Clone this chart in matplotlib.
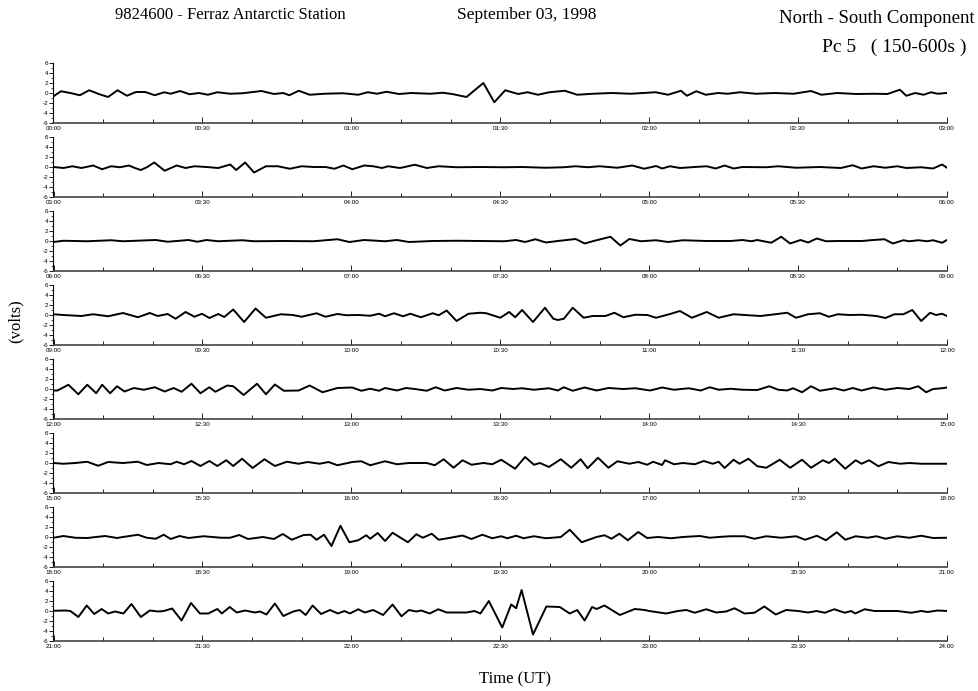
import numpy as np
import matplotlib
matplotlib.use('Agg')
import matplotlib.pyplot as plt
from matplotlib.ticker import MultipleLocator, FuncFormatter

plt.rcParams['axes.unicode_minus'] = False

# turning points: minutes after panel start, volts
t0 = [0, 1.5, 3.4, 5.3, 7.2, 9.1, 11.0, 12.9, 14.8, 16.6, 18.5, 20.4, 22.3, 23.6, 25.5, 27.4,
      29.3, 31.1, 33.0, 35.6, 38.1, 41.9, 44.4, 46.3, 47.5, 49.4, 51.6, 54.5, 58.3, 61.4, 63.3,
      65.2, 67.1, 69.6, 72.1, 75.9, 78.4, 80.3, 83.2, 86.6, 88.8, 91.0, 93.6, 95.5, 97.6, 99.9,
      103.0, 105.5, 108.7, 112.5, 116.3, 121.3, 123.8, 126.4, 127.6, 129.5, 131.4, 133.9, 135.8,
      138.3, 141.5, 145.3, 149.1, 152.6, 154.7, 157.9, 161.7, 165.4, 168.0, 170.5, 171.8, 173.6,
      175.3, 176.8, 178.1, 180.0]
v0 = [-0.65, 0.35, 0, -0.45, 0.55, -0.2, -0.8, 0.55, -0.55, 0.2, 0.2, -0.45, 0.15, -0.15, 0.4, -0.25,
      0, -0.35, 0.15, -0.15, -0.05, 0.4, -0.2, 0, -0.45, 0.45, -0.35, -0.15, -0.05, -0.35, 0.15,
      -0.15, 0.25, -0.2, 0, -0.15, 0.05, -0.2, -0.8, 2.0, -1.85, 0.55, -0.2, 0.15, -0.35, 0.15,
      0.45, -0.35, -0.15, 0, -0.15, 0.15, -0.35, 0.45, -0.55, 0.35, -0.35, 0, -0.15,
      0.15, -0.15, 0, -0.15, 0.4, -0.35, 0, -0.2, -0.15, -0.2, 0.65, -0.55, 0,
      -0.35, 0.15, -0.15, 0]

t1 = [0, 2.0, 3.8, 5.6, 8.0, 9.8, 11.6, 13.4, 15.2, 16.4, 17.6, 18.8, 20.3, 22.4, 24.8, 26.6, 28.4,
      30.8, 33.2, 35.6, 36.8, 38.6, 40.4, 42.8, 45.2, 47.6, 50.0, 52.4, 54.8, 56.6, 58.4, 60.2,
      62.6, 64.4, 66.2, 67.4, 69.8, 72.8, 75.2, 77.6, 81.2, 86.0, 90.8, 94.4, 99.2, 102.8, 105.2,
      107.6, 110.0, 113.6, 116.6, 119.0, 121.4, 122.6, 124.2, 126.2, 129.2, 131.6, 133.4, 135.2,
      137.0, 138.8, 143.6, 146.0, 149.6, 154.4, 158.6, 161.0, 162.8, 165.2, 167.6, 170.0, 171.8,
      174.8, 177.2, 179.0, 180.0]
v1 = [0, -0.2, 0.15, -0.2, 0.3, -0.45, 0.15, -0.05, 0.3, -0.2, -0.6, -0.05, 0.9, -0.75, 0.3, -0.2, 0.15,
      0, -0.2, 0.5, -0.6, 0.9, -1.1, 0.15, 0.15, -0.35, 0.15, 0, 0, -0.35, 0.3, -0.45,
      0.3, 0.15, -0.2, 0.15, -0.2, 0.45, -0.2, 0.15, -0.05, 0, -0.05, 0, -0.15, -0.05, 0.15,
      -0.05, 0.15, -0.15, 0.3, -0.35, 0.2, -0.3, 0.15, -0.2, 0, 0.15, -0.3, 0.3,
      -0.3, 0, -0.05, 0.15, -0.15, 0, -0.2, 0.35, -0.3, 0.15, -0.15, 0.15, -0.2,
      -0.05, -0.3, 0.5, -0.15]

t2 = [0, 2.0, 6.8, 11.6, 14.0, 20.6, 23.0, 27.2, 29.0, 30.8, 33.2, 38.0, 40.4, 46.4, 52.4, 57.2,
      59.6, 62.6, 66.8, 69.2, 71.6, 76.4, 81.2, 86.0, 90.8, 93.2, 95.0, 97.1, 99.2, 101.6, 105.2,
      107.0, 108.8, 112.2, 114.2, 116.0, 118.4, 121.4, 123.8, 126.8, 131.6, 136.4, 138.8, 140.6,
      141.8, 144.6, 146.6, 148.4, 150.5, 152.0, 153.8, 155.6, 158.0, 162.8, 165.2, 167.4, 169.1,
      171.2, 172.4, 174.2, 176.0, 177.2, 179.0, 180.0]
v2 = [-0.2, 0.05, -0.05, 0.15, -0.05, 0.2, -0.15, 0.2, -0.15, 0.2, -0.05, 0.15, -0.05, 0, -0.05, 0.35,
      -0.2, 0.2, -0.05, 0.2, -0.2, 0, 0.05, 0, -0.05, 0.2, -0.2, 0.35, -0.3, 0, 0.4,
      -0.5, 0, 0.85, -0.9, 0.4, -0.05, 0.15, -0.2, 0.15, 0, 0, 0.2, -0.05,
      0.2, -0.35, 0.85, -0.5, 0.2, -0.3, 0.5, -0.05, 0, 0, 0.2, 0.35, -0.5,
      0.15, -0.05, 0.15, -0.05, 0.15, -0.35, 0.2]

t3 = [0, 2.0, 5.6, 8.0, 11.0, 14.0, 17.0, 19.4, 21.0, 23.0, 24.6, 26.6, 28.4, 29.9, 31.4, 33.2,
      34.4, 36.2, 38.4, 40.7, 42.8, 45.8, 48.2, 50.0, 53.0, 54.8, 57.2, 59.0, 61.4, 63.8, 65.6,
      66.8, 68.6, 70.4, 71.9, 74.0, 76.4, 77.6, 79.2, 81.2, 83.6, 86.0, 87.2, 90.0, 91.8, 93.0,
      94.4, 96.6, 99.0, 100.7, 101.6, 102.8, 104.6, 106.8, 108.6, 111.2, 113.0, 114.8, 117.2,
      119.6, 121.4, 124.4, 126.2, 128.6, 131.6, 134.0, 137.0, 140.0, 142.4, 145.4, 147.8, 149.6,
      152.0, 154.4, 156.2, 158.0, 160.4, 162.8, 165.8, 167.6, 169.4, 171.2, 173.0, 174.8, 176.6,
      177.8, 179.0, 180.0]
v3 = [0.15, 0, -0.2, 0.15, -0.25, 0.4, -0.45, 0.4, -0.2, 0.2, -0.75, 0.6, -0.35, 0.25, -0.6, 0.2,
      -0.4, 1.1, -1.4, 1.3, -0.55, 0.15, 0, -0.35, 0.35, -0.35, 0.2, -0.05, 0, -0.15, 0.25,
      -0.25, 0.35, -0.25, 0.25, -0.45, 0.35, -0.05, 0.9, -1.2, 0.25, 0.45, 0.35, -0.55, 0.6, -0.45,
      1.0, -1.4, 1.45, -0.75, -1.0, -0.75, 1.45, -0.55, -0.2, -0.2, 0.45, -0.45, 0.05,
      0, -0.55, 0.25, 0.8, -0.55, 0.6, -0.55, 0.15, -0.05, -0.2, 0.15, 0.45, -0.55,
      0.15, 0.35, -0.35, 0.15, 0, 0.05, -0.2, -0.6, 0.15, 0.15, 1.0, -1.2, 0.45,
      0, 0.25, -0.2]

t4 = [0, 0.8, 3.0, 5.0, 6.8, 8.6, 9.8, 11.4, 12.8, 14.3, 16.2, 18.2, 20.4, 22.4, 24.2, 25.8, 27.8,
      29.6, 31.4, 32.6, 35.0, 36.2, 38.3, 41.0, 42.8, 44.6, 46.4, 49.4, 51.6, 54.2, 57.2, 60.2,
      62.0, 63.8, 65.6, 66.8, 69.2, 71.0, 72.8, 75.2, 77.0, 78.8, 81.2, 83.6, 86.0, 88.4, 90.2,
      92.6, 94.4, 96.8, 99.8, 101.6, 102.8, 104.6, 107.0, 109.4, 111.8, 114.8, 117.2, 120.2,
      122.6, 125.0, 128.0, 130.4, 132.2, 134.0, 136.4, 138.8, 141.8, 144.2, 146.0, 147.8, 149.0,
      150.8, 152.6, 154.4, 157.4, 159.2, 161.0, 162.8, 165.2, 167.6, 170.0, 172.4, 174.2, 175.8,
      177.2, 179.0, 180.0]
v4 = [-0.3, -0.3, 0.85, -1.05, 0.85, -0.85, 0.85, -0.85, 0.55, -0.5, 0.2, -0.15, 0.35, -0.5, 0.2, -0.55, 1.05,
      -0.85, 0.35, -0.55, 0.7, 0.55, -1.2, 1.05, -1.05, 0.9, -0.35, -0.3, 0.7, -0.65, 0.2, 0.3,
      -0.35, 0.05, -0.35, 0.2, -0.3, 0.2, 0, -0.35, 0.35, -0.3, 0.2, -0.15, 0, -0.3, 0.2,
      0, 0.15, -0.15, 0.15, -0.3, 0.35, -0.35, 0.3, -0.3, 0.2, 0, 0.15, -0.3,
      0.3, -0.15, 0.15, -0.3, 0.35, -0.15, 0.05, -0.15, -0.2, 0.55, -0.15, -0.3, 0.15,
      -0.65, 0.55, -0.35, 0.15, -0.3, 0.2, -0.3, 0.3, -0.15, 0.2, 0, 0.55, -0.65,
      0, 0.15, 0.3]

t5 = [0, 2.0, 4.4, 6.8, 9.0, 11.0, 14.0, 17.0, 18.8, 21.2, 23.6, 24.8, 26.3, 27.8, 29.6, 31.4, 33.0,
      34.8, 36.2, 38.0, 40.1, 42.5, 44.6, 47.0, 49.4, 51.2, 53.6, 55.4, 57.2, 60.2, 62.0, 63.8,
      66.8, 69.2, 71.6, 75.2, 76.8, 78.6, 80.6, 82.4, 84.2, 86.6, 88.4, 90.2, 93.0, 95.0, 96.8,
      98.0, 99.8, 102.2, 104.3, 106.2, 107.6, 109.7, 111.8, 113.6, 116.0, 117.8, 119.6, 120.8,
      122.6, 123.2, 125.0, 126.8, 129.2, 131.0, 132.8, 134.0, 135.2, 137.0, 138.2, 140.0, 141.8,
      143.6, 146.3, 148.4, 150.8, 152.6, 155.0, 156.2, 157.4, 159.5, 161.6, 162.8, 164.3, 166.2,
      168.2, 170.6, 172.4, 174.8, 178.4, 180.0]
v5 = [0, -0.15, 0, 0.25, -0.55, 0.2, 0, 0.25, -0.4, 0, -0.25, 0.25, -0.25, 0.4, -0.6, 0.4, -0.6,
      0.55, -0.6, 0.85, -1.0, 0.75, -0.6, 0.25, -0.15, 0.2, -0.15, 0.2, -0.45, 0.2, 0.35, -0.45,
      0.35, -0.25, 0, 0, -0.45, 0.75, -0.95, 0.55, -0.35, 0, -0.25, 0.65, -1.15, 1.2, -0.35,
      0, -0.8, 0.75, -0.95, 0.75, -1.05, 1.05, -0.95, 0.35, -0.15, 0.2, -0.35, 0.25,
      -0.4, 0.55, -0.25, 0, -0.25, 0.4, -0.15, 0.25, -1.0, 0.65, -0.15, 0.85, -0.65,
      -0.95, 0.65, -0.95, 0.65, -0.95, 0.55, 0, 0.85, -1.15, 0.55, -0.15, 0.55, -0.65,
      0.2, -0.15, 0, -0.15, -0.15, -0.15]

t6 = [0, 2.0, 4.4, 6.8, 10.4, 12.8, 14.0, 17.0, 18.8, 20.6, 22.2, 23.6, 25.4, 27.2, 30.2, 33.8,
      35.6, 37.4, 39.2, 42.2, 44.4, 46.2, 48.0, 50.4, 51.8, 53.0, 54.5, 56.0, 57.8, 59.6, 61.4,
      63.0, 63.8, 65.3, 66.8, 68.3, 71.4, 73.1, 74.4, 76.2, 77.6, 79.4, 82.4, 84.2, 86.4, 88.4,
      90.2, 91.4, 93.2, 94.7, 96.8, 99.2, 102.2, 104.0, 106.4, 109.4, 111.0, 112.4, 114.0, 115.7,
      117.8, 119.6, 121.8, 124.4, 126.8, 130.2, 132.2, 134.6, 136.4, 139.2, 141.2, 143.6, 146.6,
      149.6, 151.4, 153.8, 155.6, 157.8, 159.5, 161.6, 164.0, 165.8, 167.6, 170.0, 172.4, 174.8,
      177.2, 180.0]
v6 = [-0.15, 0.2, -0.15, -0.2, 0.2, -0.2, 0, 0.45, -0.15, -0.35, 0.45, -0.4, 0.2, -0.2, 0.15, -0.15,
      -0.15, 0.4, -0.4, 0, -0.4, 0.6, -0.55, 0.4, 0.45, -0.55, 0.45, -1.8, 2.25, -1.05, -0.65,
      0.35, -0.35, 0.8, -0.8, 0.85, -1.05, 0.55, -0.15, 0.65, -0.55, -0.25, 0.3, -0.4, 0.45, -0.25,
      0.15, -0.25, 0.25, -0.25, 0.15, -0.25, 0, 1.45, -1.05, 0, 0.35, -0.35, 0.65, -0.65,
      1.0, -0.2, 0, -0.25, 0, 0.2, -0.15, 0.05, 0.15, 0.15, -0.35, 0.15, -0.15,
      0.15, -0.55, 0.25, -0.65, 0.95, -0.55, 0.15, -0.15, 0.15, -0.35, 0.15, -0.15, 0.25,
      -0.2, -0.15]

t7 = [0, 2.5, 3.4, 5.0, 6.7, 8.2, 9.7, 11.0, 12.4, 14.1, 15.7, 17.6, 19.4, 21.1, 22.2, 23.9, 25.8,
      27.7, 29.5, 31.2, 33.0, 33.9, 35.5, 36.9, 38.6, 40.6, 41.6, 42.9, 44.6, 46.3, 48.3, 49.6,
      50.8, 52.2, 53.9, 55.7, 57.3, 58.6, 59.7, 61.4, 62.7, 64.4, 66.4, 68.3, 70.1, 71.6, 73.1,
      74.1, 75.8, 77.5, 79.2, 81.2, 83.2, 84.8, 86.0, 87.7, 90.4, 92.2, 93.2, 94.3, 96.6, 99.3,
      102.0, 104.0, 105.5, 107.0, 108.5, 109.4, 111.0, 114.1, 117.1, 119.1, 120.0, 123.4, 125.8,
      127.5, 129.2, 131.5, 133.5, 135.5, 137.2, 139.2, 141.2, 143.2, 145.5, 147.6, 150.0, 152.0,
      153.7, 155.4, 157.3, 159.4, 160.7, 161.5, 163.4, 165.4, 167.4, 170.0, 172.8, 174.8, 176.1,
      178.1, 180.0]
v7 = [0.05, 0.1, 0, -1.2, 1.1, -0.6, 0.4, -0.5, -0.1, -0.5, 1.4, -1.2, 0.1, -0.1, 0, 0.5, -1.9,
      1.6, -0.5, -0.5, 0.4, -0.5, 0.8, -0.3, 0.1, -0.3, -0.1, -0.7, 1.5, -1.0, -0.1, 0.2,
      -0.8, 1.1, -0.6, 0.2, -0.5, 0, -0.5, 0.35, -0.3, 0.2, -0.8, 1.3, -1.05, 0.2, -0.1,
      0.1, -0.5, 0.35, -0.3, -0.3, -0.3, 0, -0.5, 2.0, -3.3, 1.3, 0.55, 4.2, -4.7, 0.9,
      0.8, -0.5, 0.2, -1.9, 0.8, 0.4, 1.1, -0.8, 0.4, 0.2, 0, -0.5, 0,
      0.2, -0.35, 0.35, -0.3, -0.1, 0.55, -0.5, -0.35, 0.9, -0.7, 0.2, 0, -0.3,
      0, -0.35, 0.35, -0.35, 0, -0.5, 0.35, 0, 0, 0, -0.35, 0, -0.2,
      0.1, 0]

times = [t0, t1, t2, t3, t4, t5, t6, t7]
volts = [v0, v1, v2, v3, v4, v5, v6, v7]
panel_start = [0, 180, 360, 540, 720, 900, 1080, 1260]   # minutes of day
yticks = [-6, -4, -2, 0, 2, 4, 6]


def hhmm(x, pos=None):
    m = int(round(x))
    return f'{m // 60:02d}:{m % 60:02d}'


fig = plt.figure(figsize=(9.79, 6.91), dpi=100)
W, H = 979, 691
left, right = 53.5, 947
for k in range(8):
    top = 63 + 74 * k
    bot = 123 + 74 * k
    ax = fig.add_axes([left / W, 1 - bot / H, (right - left) / W, (bot - top) / H])
    x = np.array(times[k]) + panel_start[k]
    ax.plot(x, volts[k], color='black', lw=1.4, solid_joinstyle='round')
    ax.set_xlim(panel_start[k], panel_start[k] + 180)
    ax.set_ylim(-6, 6)
    ax.set_yticks(yticks)
    ax.set_yticklabels([str(v) for v in yticks])
    ax.yaxis.set_minor_locator(MultipleLocator(1))
    ax.xaxis.set_major_locator(MultipleLocator(30))
    ax.xaxis.set_minor_locator(MultipleLocator(10))
    ax.xaxis.set_major_formatter(FuncFormatter(hhmm))
    for s in ['top', 'right']:
        ax.spines[s].set_visible(False)
    ax.spines['left'].set_linewidth(0.8)
    ax.spines['bottom'].set_linewidth(1.2)
    ax.spines['bottom'].set_color('#444444')
    ax.tick_params(axis='y', which='major', direction='out', length=3, width=0.6,
                   labelsize=4.5, pad=1, labelfontfamily='Liberation Sans')
    ax.tick_params(axis='y', which='minor', direction='out', length=1.8, width=0.5)
    ax.tick_params(axis='x', which='major', direction='in', length=4, width=0.6,
                   labelsize=4.5, pad=2.5, labelfontfamily='Liberation Sans')
    ax.tick_params(axis='x', which='minor', direction='in', length=3, width=0.6)
    ax.patch.set_alpha(0)

serif = 'Liberation Serif'
fig.text(0.235, 0.979, '9824600 - Ferraz Antarctic Station', ha='center', va='center',
         fontsize=12, family=serif)
fig.text(0.538, 0.979, 'September 03, 1998', ha='center', va='center', fontsize=12.5, family=serif)
fig.text(0.996, 0.973, 'North - South Component', ha='right', va='center', fontsize=13.5, family=serif)
fig.text(0.987, 0.932, 'Pc 5   ( 150-600s )', ha='right', va='center', fontsize=14, family=serif)
fig.text(0.016, 0.535, '(volts)', rotation=90, ha='center', va='center', fontsize=12, family=serif)
fig.text(0.526, 0.017, 'Time (UT)', ha='center', va='center', fontsize=12, family=serif)

fig.savefig('out.png', dpi=100)
